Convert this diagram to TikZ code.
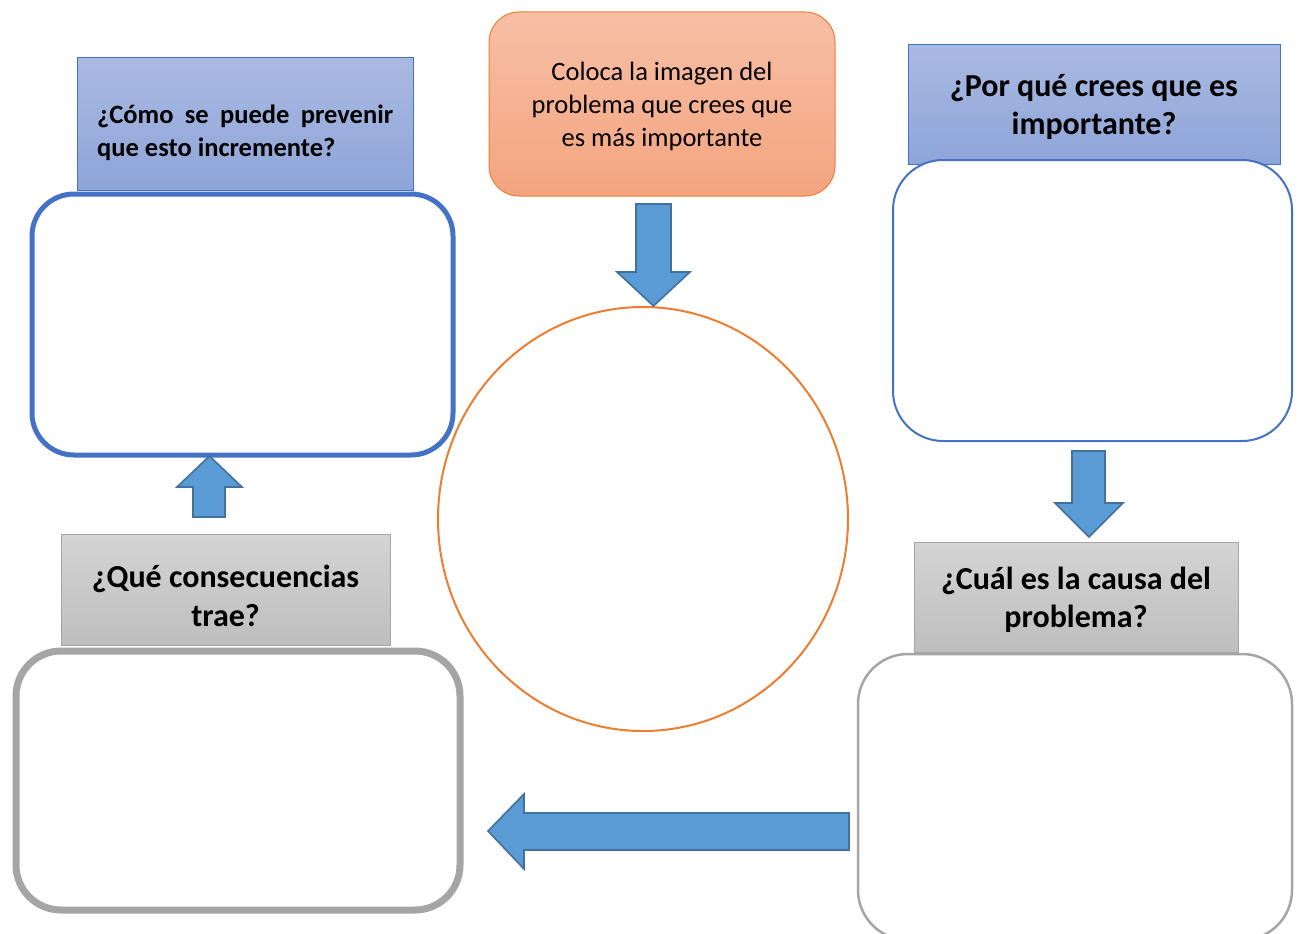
\documentclass[tikz,border=0pt]{standalone}
\usepackage{fontspec}
\setmainfont{Carlito}
\usetikzlibrary{shapes.geometric}
\definecolor{accblue}{HTML}{4472C4}
\definecolor{accgray}{HTML}{A5A5A5}
\definecolor{accorange}{HTML}{ED7D31}
\definecolor{arrfill}{HTML}{5B9BD5}
\definecolor{arrline}{HTML}{41719C}
\definecolor{bluetop}{HTML}{AAB9E1}
\definecolor{bluebot}{HTML}{8EA5D9}
\definecolor{graytop}{HTML}{D4D4D4}
\definecolor{graybot}{HTML}{BEBEBE}
\definecolor{orgtop}{HTML}{F7BFA6}
\definecolor{orgbot}{HTML}{F4A47F}
\tikzset{
  bluehdr/.style={draw=accblue, line width=1pt, top color=bluetop, bottom color=bluebot, rectangle, inner sep=0pt},
  grayhdr/.style={draw=accgray, line width=1pt, top color=graytop, bottom color=graybot, rectangle, inner sep=0pt},
  hdrtext/.style={font=\fontsize{32}{38.5}\selectfont\bfseries, align=center, inner sep=0pt},
  answerbox/.style={fill=white, rectangle},
  blockarrow/.style={fill=arrfill, draw=arrline, line width=1.6pt, line join=miter}
}
\begin{document}
\begin{tikzpicture}[x=1pt,y=-1pt]
\useasboundingbox (0,0) rectangle (1301,934);

% ---------- top left ----------
\node[bluehdr, minimum width=336pt, minimum height=132pt] (hTL) at (245,124) {};
\node[font=\fontsize{26.5}{33}\selectfont\bfseries, align=left, inner sep=0pt, anchor=west] (tTL) at (97,133)
  {\makebox[296pt][s]{¿Cómo se puede prevenir}\\que esto incremente?};
\draw[answerbox, draw=accblue, line width=5pt, rounded corners=42pt] (32,194) rectangle (453,455);

% ---------- top centre ----------
\node[draw=accorange, line width=1pt, top color=orgtop, bottom color=orgbot, rounded corners=30pt,
      minimum width=346pt, minimum height=184pt, inner sep=0pt] (hC) at (662,104) {};
\node[font=\fontsize{26.5}{33}\selectfont, align=center, inner sep=0pt] (tC) at (662,106)
  {Coloca la imagen del\\problema que crees que\\es más importante};

% circle
\node[draw=accorange, line width=2pt, ellipse, minimum width=410pt, minimum height=424pt, inner sep=0pt] (circ) at (643,519) {};

% ---------- top right ----------
\node[bluehdr, minimum width=372pt, minimum height=119pt] (hTR) at (1094,104.5) {};
\node[hdrtext] (tTR) at (1094,107) {¿Por qué crees que es\\importante?};
\draw[answerbox, draw=accblue, line width=2pt, rounded corners=50pt] (893,160) rectangle (1292,441);

% ---------- bottom right ----------
\node[grayhdr, minimum width=324pt, minimum height=110pt] (hBR) at (1076,597) {};
\node[hdrtext] (tBR) at (1076,600) {¿Cuál es la causa del\\problema?};
\draw[answerbox, draw=accgray, line width=2.5pt, rounded corners=50pt] (858,654) rectangle (1292,940);

% ---------- bottom left ----------
\node[grayhdr, minimum width=329pt, minimum height=111pt] (hBL) at (225.5,589.5) {};
\node[hdrtext] (tBL) at (225.5,596) {¿Qué consecuencias\\trae?};
\draw[answerbox, draw=accgray, line width=7pt, rounded corners=45pt] (16,651) rectangle (460,910);

% ---------- block arrows ----------
\draw[blockarrow] (636,204) -- (671,204) -- (671,272) -- (690,272) -- (653.5,306) -- (617,272) -- (636,272) -- cycle;
\draw[blockarrow] (1072,451) -- (1105,451) -- (1105,503) -- (1123,503) -- (1089,537) -- (1055,503) -- (1072,503) -- cycle;
\draw[blockarrow] (193,517) -- (225,517) -- (225,487) -- (242,487) -- (209.5,456) -- (177,487) -- (193,487) -- cycle;
\draw[blockarrow] (849,813) -- (849,850) -- (524,850) -- (524,869) -- (488,831) -- (524,794) -- (524,813) -- cycle;
\end{tikzpicture}
\end{document}
